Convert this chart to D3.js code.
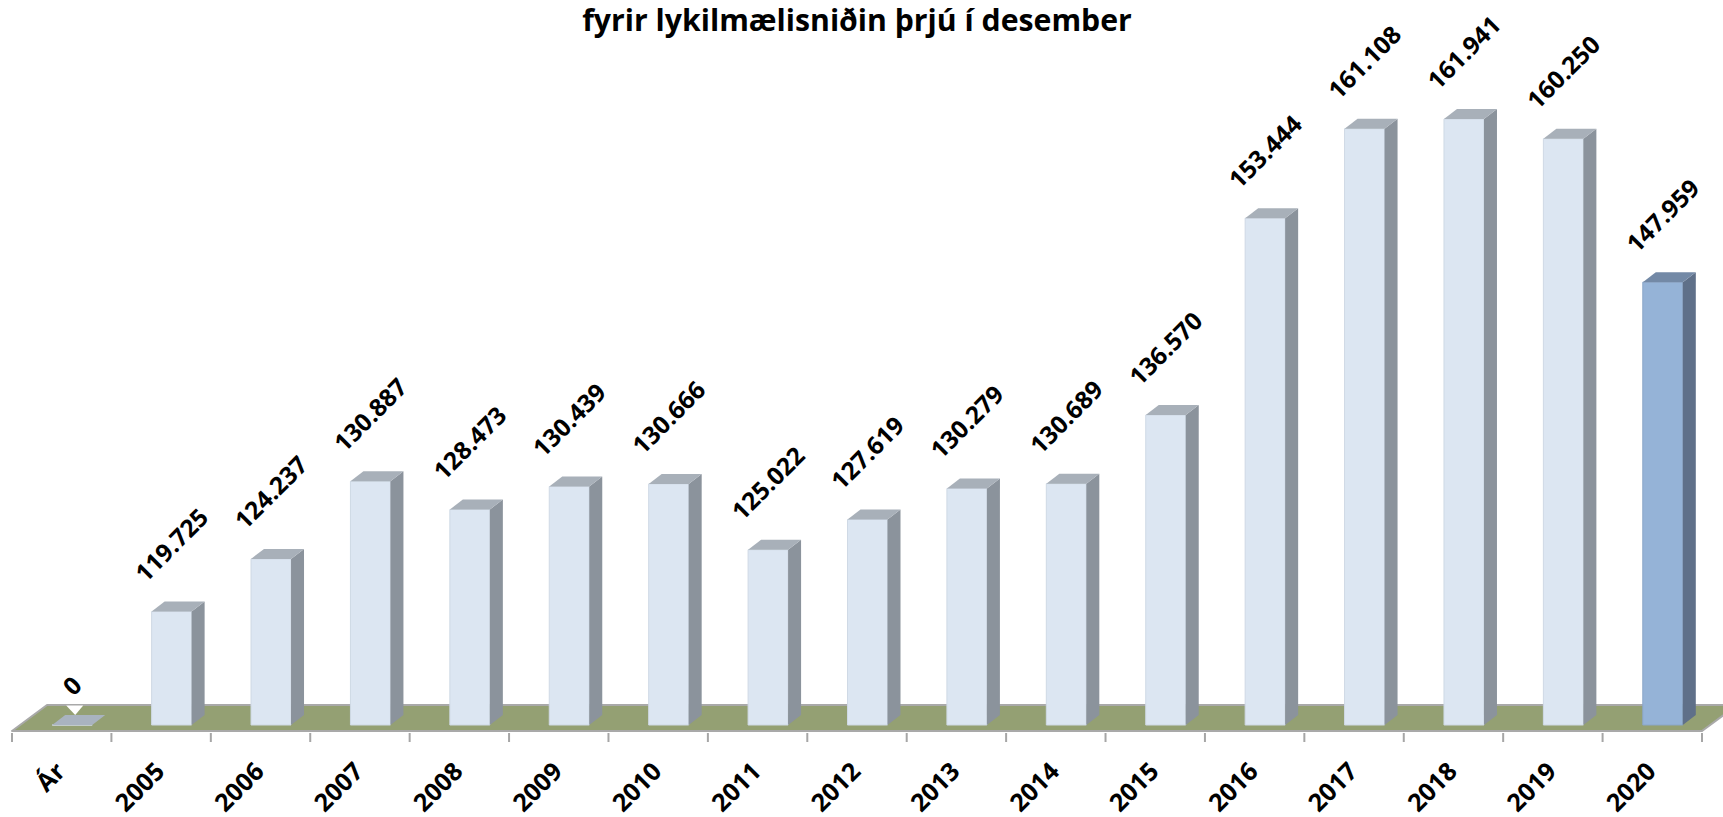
<!DOCTYPE html>
<html>
<head>
<meta charset="utf-8">
<script src="https://cdn.jsdelivr.net/npm/d3@7"></script>
<style>
  body { margin: 0; background: #fff; }
  text { font-family: "Open Sans", Lato, sans-serif; font-weight: bold; }
</style>
</head>
<body>
<div id="chart-container"></div>
<script>
const categories = ["Ár", "2005", "2006", "2007", "2008", "2009", "2010", "2011", "2012",
    "2013", "2014", "2015", "2016", "2017", "2018", "2019", "2020"]
const values = [0, 119725, 124237, 130887, 128473, 130439, 130666, 125022, 127619,
    130279, 130689, 136570, 153444, 161108, 161941, 160250, 147959]
const title = "fyrir lykilmælisniðin þrjú í desember"

const width = 1723
const height = 817

// 3d look: depth offset of bars and of the floor
const depth = {dx: 13, dy: 10}
const floorDepth = {dx: 35, dy: 26}
const floorY = 731
const barBase = 725
const barW = 40
const barShift = 10.5

const x = d3.scaleBand()
    .domain(categories)
    .range([12, 1702])
    .padding(0)
const y = d3.scaleLinear()
    .domain([110000, 170000])
    .range([barBase, 25])
    .clamp(true)

const fmt = v => d3.format(",")(v).replace(/,/g, ".")

const svg = d3.select("#chart-container")
    .append("svg")
        .attr("width", width)
        .attr("height", height)

// font size so that a sample string gets a given width (calibri-ish metrics)
function fitSize(sample, target) {
    const t = svg.append("text").attr("font-size", 20).text(sample)
    const len = t.node().getComputedTextLength()
    t.remove()
    return 20 * target / len
}
const labelSize = fitSize("119.725", 91)
const tickSize = fitSize("2005", 57)

// title (second line of the original title)
svg.append("text")
    .attr("x", 857)
    .attr("y", 31)
    .attr("text-anchor", "middle")
    .attr("font-size", fitSize(title, 550))
    .attr("fill", "#000")
    .text(title)

// floor
const fx0 = x.range()[0], fx1 = x.range()[1]
svg.append("polygon")
    .attr("points", [
        [fx0, floorY], [fx1, floorY],
        [fx1 + floorDepth.dx, floorY - floorDepth.dy], [fx0 + floorDepth.dx, floorY - floorDepth.dy]
    ].join(" "))
    .attr("fill", "#94a073")
    .attr("stroke", "#a9a9a9")
    .attr("stroke-width", 2)
    .attr("stroke-linejoin", "round")

// x axis: labels from the axis, tick lines moved to band edges
const bw = x.bandwidth()
const xAxis = svg.append("g")
    .attr("transform", `translate(0, ${floorY + 2})`)
    .call(d3.axisBottom(x).tickSize(9).tickSizeOuter(0))
xAxis.select(".domain").remove()
xAxis.selectAll(".tick line")
    .attr("x1", -bw / 2).attr("x2", -bw / 2)
    .attr("stroke", "#a6a6a6")
    .attr("stroke-width", 2)
xAxis.append("line")
    .attr("x1", fx1).attr("x2", fx1)
    .attr("y1", 0).attr("y2", 9)
    .attr("stroke", "#a6a6a6")
    .attr("stroke-width", 2)
// put each tick label in a rotated group
xAxis.selectAll(".tick").each(function () {
    const tick = d3.select(this)
    const label = tick.select("text")
    const g = tick.append("g").attr("transform", "translate(5, 40) rotate(-45)")
    g.node().appendChild(label.node())
    label
        .attr("font-size", tickSize)
        .attr("font-family", "'Open Sans', Lato, sans-serif")
        .attr("fill", "#000")
        .attr("text-anchor", "end")
        .attr("x", 0)
        .attr("y", 0)
        .attr("dy", null)
})

// bars
const bars = svg.append("g")
    .selectAll("g")
    .data(categories.map((c, i) => ({cat: c, value: values[i], last: i === categories.length - 1})))
    .enter().append("g")

const barLeft = d => x(d.cat) + bw / 2 + barShift - barW / 2
const barTop = d => y(d.value)

bars.append("polygon") // front
    .attr("points", d => {
        const l = barLeft(d), t = barTop(d)
        return [[l, t], [l + barW, t], [l + barW, barBase], [l, barBase]].join(" ")
    })
    .attr("fill", d => d.last ? "#95b3d7" : "#dce6f2")
    .attr("stroke", d => d.last ? "#8aa6c8" : "#cfd9e5")
    .attr("stroke-width", 1)

bars.append("polygon") // side
    .attr("points", d => {
        const l = barLeft(d) + barW, t = barTop(d)
        return [[l, t], [l + depth.dx, t - depth.dy], [l + depth.dx, barBase - depth.dy], [l, barBase]].join(" ")
    })
    .attr("fill", d => d.last ? "#5f7089" : "#8b939c")

bars.append("polygon") // top
    .attr("points", d => {
        const l = barLeft(d), t = barTop(d)
        return [[l, t], [l + depth.dx, t - depth.dy], [l + barW + depth.dx, t - depth.dy], [l + barW, t]].join(" ")
    })
    .attr("fill", d => d.last ? "#7389a6" : (d.value <= y.domain()[0] ? "#a9b3bf" : "#a8b0b9"))

// little white notch under the zero label
const zero = categories.map((c, i) => ({cat: c, value: values[i]})).filter(d => d.value <= y.domain()[0])
svg.selectAll(".notch")
    .data(zero)
    .enter().append("polygon")
    .attr("class", "notch")
    .attr("points", d => {
        const cx = barLeft(d) + barW / 2
        return [[cx - 6, floorY - floorDepth.dy + 0.5], [cx + 11, floorY - floorDepth.dy + 0.5], [cx + 3, barBase - depth.dy]].join(" ")
    })
    .attr("fill", "#fff")

// value labels, rotated, centred over the front face
const labels = bars.append("g")
labels.append("text")
    .attr("font-size", labelSize)
    .attr("fill", "#000")
    .attr("text-anchor", "middle")
    .attr("dy", "0.36em")
    .text(d => fmt(d.value))
labels.attr("transform", function (d) {
    const len = d3.select(this).select("text").node().getComputedTextLength()
    const cx = barLeft(d) + barW / 2
    const cy = barTop(d) - 28 - (len + 18) / 2.83
    return `translate(${cx}, ${cy}) rotate(-45)`
})
</script>
</body>
</html>
